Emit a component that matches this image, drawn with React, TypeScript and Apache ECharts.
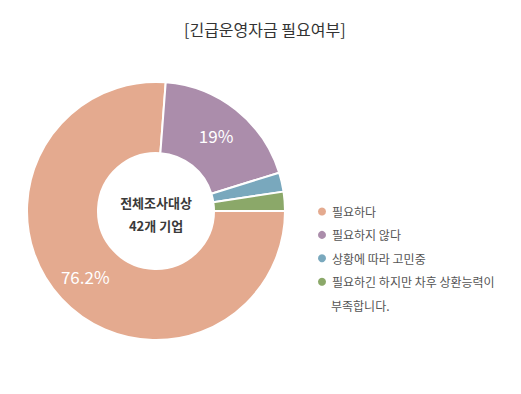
import React, { useEffect, useRef } from "react";
import * as echarts from "echarts";

const titleText = "[긴급운영자금 필요여부]";
const centerLines = ["전체조사대상", "42개 기업"];
const categories = [
  "필요하다",
  "필요하지 않다",
  "상황에 따라 고민중",
  "필요하긴 하지만 차후 상환능력이",
];
const lastLegendContinuation = "부족합니다.";
const values = [76.2, 19, 2.4, 2.4];
const showLabel = [true, true, false, false];
const colors = ["#E4AA8F", "#AB8DAB", "#79A8BD", "#8BA869"];

const FONT = "'Noto Sans CJK KR', 'Noto Sans', sans-serif";

export default function App() {
  const ref = useRef<HTMLDivElement>(null);
  useEffect(() => {
    if (!ref.current) return;
    const chart = echarts.init(ref.current, undefined, { renderer: "svg" });
    chart.setOption({
      animation: false,
      backgroundColor: "#ffffff",
      textStyle: { fontFamily: FONT },
      title: {
        text: titleText,
        left: 184,
        top: 21,
        padding: 0,
        textStyle: { fontFamily: FONT, fontSize: 16, fontWeight: "normal", color: "#333333" },
      },
      legend: {
        orient: "vertical",
        left: 316,
        top: 200,
        padding: 0,
        itemWidth: 10,
        itemHeight: 10,
        itemGap: 0.4,
        icon: "circle",
        selectedMode: false,
        textStyle: { fontFamily: FONT, fontSize: 12, color: "#555555", lineHeight: 23 },
        data: categories,
      },
      graphic: [
        {
          type: "text",
          x: 156,
          y: 213.5,
          style: {
            text: centerLines.join("\n"),
            x: 0,
            y: 0,
            align: "center",
            verticalAlign: "middle",
            fontFamily: FONT,
            fontSize: 13,
            fontWeight: "bold",
            lineHeight: 23,
            fill: "#3a3a3a",
          },
        },
        {
          type: "text",
          x: 331,
          y: 305,
          style: {
            text: lastLegendContinuation,
            x: 0,
            y: 0,
            align: "left",
            verticalAlign: "middle",
            fontFamily: FONT,
            fontSize: 12,
            fill: "#555555",
          },
        },
      ],
      series: [
        {
          type: "pie",
          center: [156, 211],
          radius: [58, 129],
          startAngle: 0,
          clockwise: true,
          avoidLabelOverlap: false,
          itemStyle: { borderColor: "#ffffff", borderWidth: 2 },
          label: {
            position: "inside",
            formatter: "{c}%",
            color: "#ffffff",
            fontFamily: FONT,
            fontSize: 17,
          },
          labelLine: { show: false },
          emphasis: { disabled: true },
          data: categories.map((c, i) => ({
            name: c,
            value: values[i],
            itemStyle: { color: colors[i] },
            label: { show: showLabel[i] },
          })),
        },
      ],
    });
    return () => chart.dispose();
  }, []);
  return (
    <div
      ref={ref}
      style={{ position: "fixed", left: 0, top: 0, width: 521, height: 394 }}
    />
  );
}
